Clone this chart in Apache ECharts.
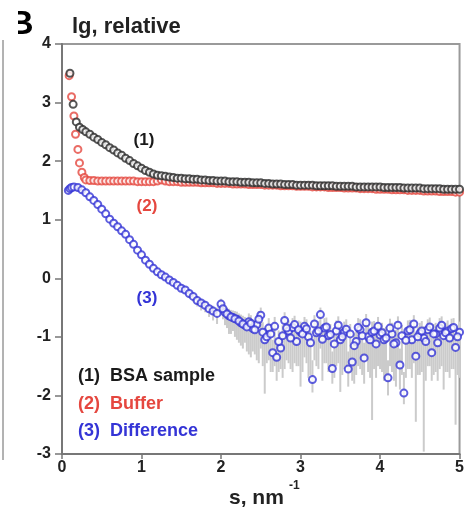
<!DOCTYPE html>
<html>
<head>
<meta charset="utf-8">
<script src="https://cdn.jsdelivr.net/npm/echarts@6/dist/echarts.min.js"></script>
<style>
  html, body { margin: 0; padding: 0; background: #fff; }
  #chart { width: 467px; height: 509px; }
</style>
</head>
<body>
<div id="chart"></div>
<script>
// shared s grid (nm^-1) for the tail of every curve
const sGrid = [
  0.35, 0.40, 0.45, 0.50, 0.55, 0.60, 0.65, 0.70, 0.75, 0.80, 0.85, 0.90, 0.95, 1.00,
  1.05, 1.10, 1.15, 1.20, 1.25, 1.30, 1.35, 1.40, 1.45, 1.50, 1.55, 1.60, 1.65, 1.70, 1.75, 1.80, 1.85, 1.90, 1.95, 2.00,
  2.05, 2.10, 2.15, 2.20, 2.25, 2.30, 2.35, 2.40, 2.45, 2.50, 2.55, 2.60, 2.65, 2.70, 2.75, 2.80, 2.85, 2.90, 2.95, 3.00,
  3.05, 3.10, 3.15, 3.20, 3.25, 3.30, 3.35, 3.40, 3.45, 3.50, 3.55, 3.60, 3.65, 3.70, 3.75, 3.80, 3.85, 3.90, 3.95, 4.00,
  4.05, 4.10, 4.15, 4.20, 4.25, 4.30, 4.35, 4.40, 4.45, 4.50, 4.55, 4.60, 4.65, 4.70, 4.75, 4.80, 4.85, 4.90, 4.95, 5.00
];

// (1) BSA sample
const sampleHeadS = [0.10, 0.14, 0.18, 0.22, 0.26, 0.30];
const sampleHeadV = [3.50, 2.97, 2.67, 2.58, 2.54, 2.50];
const sampleTail = [
  2.46, 2.41, 2.37, 2.32, 2.28, 2.23, 2.19, 2.14, 2.10, 2.05, 2.01, 1.96, 1.92, 1.88,
  1.84, 1.81, 1.78, 1.76, 1.75, 1.74, 1.73, 1.72, 1.71, 1.71, 1.70, 1.70, 1.69, 1.69, 1.68, 1.68, 1.67, 1.67, 1.66, 1.66,
  1.66, 1.65, 1.65, 1.65, 1.64, 1.64, 1.64, 1.63, 1.63, 1.63, 1.62, 1.62, 1.61, 1.61, 1.61, 1.60, 1.60, 1.60, 1.59, 1.59,
  1.59, 1.59, 1.59, 1.58, 1.58, 1.58, 1.58, 1.58, 1.57, 1.57, 1.57, 1.57, 1.57, 1.56, 1.56, 1.56, 1.56, 1.56, 1.56, 1.56,
  1.55, 1.55, 1.55, 1.55, 1.55, 1.54, 1.54, 1.54, 1.54, 1.54, 1.53, 1.53, 1.53, 1.53, 1.53, 1.52, 1.52, 1.52, 1.52, 1.52
];

// (2) Buffer
const bufferHeadS = [0.09, 0.12, 0.15, 0.17, 0.20, 0.22, 0.25, 0.28, 0.30];
const bufferHeadV = [3.46, 3.10, 2.77, 2.46, 2.20, 1.97, 1.81, 1.72, 1.68];
const bufferTail = [
  1.67, 1.67, 1.66, 1.66, 1.66, 1.66, 1.66, 1.66, 1.66, 1.66, 1.66, 1.66, 1.65, 1.65,
  1.65, 1.65, 1.65, 1.66, 1.68, 1.66, 1.65, 1.65, 1.65, 1.64, 1.64, 1.64, 1.64, 1.64, 1.63, 1.63, 1.63, 1.63, 1.62, 1.62,
  1.62, 1.62, 1.61, 1.61, 1.61, 1.61, 1.60, 1.60, 1.60, 1.60, 1.59, 1.59, 1.59, 1.59, 1.58, 1.58, 1.58, 1.58, 1.57, 1.57,
  1.57, 1.57, 1.56, 1.56, 1.56, 1.56, 1.55, 1.55, 1.55, 1.55, 1.54, 1.54, 1.54, 1.54, 1.53, 1.53, 1.53, 1.53, 1.52, 1.52,
  1.52, 1.52, 1.51, 1.51, 1.51, 1.51, 1.50, 1.50, 1.50, 1.50, 1.49, 1.49, 1.49, 1.49, 1.48, 1.48, 1.48, 1.48, 1.47, 1.47
];

// (3) Difference
const diffHeadS = [0.08, 0.10, 0.12, 0.15, 0.20, 0.25, 0.30];
const diffHeadV = [1.50, 1.53, 1.55, 1.56, 1.55, 1.51, 1.46];
const diffTail = [
  1.39, 1.33, 1.26, 1.18, 1.10, 1.01, 0.94, 0.88, 0.81, 0.75, 0.66, 0.58, 0.48, 0.40,
  0.31, 0.24, 0.17, 0.11, 0.06, 0.02, -0.03, -0.07, -0.12, -0.17, -0.20, -0.26, -0.31, -0.38, -0.42, -0.46, -0.52, -0.56, -0.60, -0.44,
  -0.58, -0.64, -0.67, -0.70, -0.76, -0.80, -0.74, -0.86, -0.79, -0.63, -1.05, -0.85, -1.27, -1.35, -1.19, -0.72, -0.90, -0.84, -1.08, -0.92,
  -0.82, -1.00, -1.73, -0.93, -0.62, -0.85, -0.98, -1.54, -0.90, -1.05, -0.92, -1.55, -1.43, -1.08, -0.88, -1.36, -1.00, -0.92, -1.12, -0.97,
  -1.05, -1.70, -0.95, -1.10, -1.48, -1.96, -0.90, -1.05, -1.33, -0.94, -1.02, -0.88, -1.27, -0.95, -0.85, -0.98, -0.90, -0.86, -1.18, -0.92
];
// extra difference points between the grid steps (noisy part)
const diffMidS = [
  2.025, 2.075, 2.125, 2.175, 2.225, 2.275, 2.325, 2.375, 2.425, 2.475, 2.525, 2.575, 2.625, 2.675, 2.725, 2.775, 2.825, 2.875, 2.925, 2.975,
  3.025, 3.075, 3.125, 3.175, 3.225, 3.275, 3.325, 3.375, 3.425, 3.475, 3.525, 3.575, 3.625, 3.675, 3.725, 3.775, 3.825, 3.875, 3.925, 3.975,
  4.025, 4.075, 4.125, 4.175, 4.225, 4.275, 4.325, 4.375, 4.425, 4.475, 4.525, 4.575, 4.625, 4.675, 4.725, 4.775, 4.825, 4.875, 4.925, 4.975
];
const diffMidV = [
  -0.52, -0.61, -0.66, -0.69, -0.73, -0.78, -0.83, -0.77, -0.88, -0.70, -0.92, -1.00, -0.95, -0.82, -1.08, -0.98, -0.85, -1.02, -0.79, -0.88,
  -0.95, -0.86, -1.10, -0.78, -0.90, -1.04, -0.83, -0.96, -1.12, -0.80, -1.00, -0.87, -0.95, -1.15, -0.84, -0.98, -0.76, -1.05, -0.90, -0.82,
  -0.93, -1.02, -0.85, -1.12, -0.80, -0.98, -1.06, -0.88, -0.78, -1.00, -0.90, -1.08, -0.83, -0.95, -1.10, -0.80, -0.93, -1.02, -0.84, -1.00
];

// error bar ends of the difference curve, from s = 1.60 on
const errFrom = 1.60;
const errLow = [
  -0.34, -0.40, -0.48, -0.55, -0.58, -0.66, -0.72, -0.78, -0.62,
  -0.80, -0.95, -0.90, -1.05, -1.15, -1.10, -1.30, -1.25, -1.40, -1.20, -1.97, -1.40, -1.60, -1.75, -1.55, -1.55, -1.45, -1.60, -1.50, -1.85,
  -1.35, -1.70, -1.95, -1.50, -1.20, -1.45, -1.60, -1.80, -1.50, -1.94, -1.55, -1.85, -1.75, -1.65, -1.55, -1.80, -1.60, -2.42, -1.70, -1.55,
  -1.75, -2.00, -1.60, -1.85, -1.90, -2.15, -1.55, -1.70, -2.45, -1.65, -2.96, -1.50, -1.75, -1.60, -1.55, -1.90, -1.60, -1.55, -2.50, -1.70
];
const errHigh = [
  -0.20, -0.25, -0.31, -0.35, -0.38, -0.44, -0.47, -0.50, -0.35,
  -0.47, -0.52, -0.55, -0.57, -0.62, -0.66, -0.60, -0.70, -0.64, -0.50, -0.85, -0.68, -1.05, -1.10, -0.95, -0.58, -0.72, -0.68, -0.88, -0.74,
  -0.66, -0.80, -1.40, -0.75, -0.50, -0.68, -0.78, -1.25, -0.72, -0.85, -0.74, -1.25, -1.15, -0.88, -0.70, -1.10, -0.80, -0.74, -0.90, -0.78,
  -0.85, -1.40, -0.76, -0.88, -1.20, -1.60, -0.72, -0.85, -1.08, -0.76, -0.82, -0.70, -1.02, -0.76, -0.68, -0.78, -0.72, -0.69, -0.95, -0.74
];
const errMidLow = [
  -0.70, -0.85, -0.95, -1.00, -1.10, -1.20, -1.25, -1.35, -1.30, -1.45, -1.50, -1.45, -1.60, -1.50, -1.60, -1.70, -1.40, -1.55, -1.45, -1.50,
  -1.60, -1.45, -1.65, -1.40, -1.55, -1.75, -1.45, -1.60, -1.70, -1.45, -1.65, -1.50, -1.60, -1.80, -1.50, -1.65, -1.40, -1.70, -1.55, -1.50,
  -1.60, -1.70, -1.50, -1.75, -1.45, -1.65, -1.70, -1.55, -1.45, -1.65, -1.60, -1.75, -1.50, -1.65, -1.75, -1.50, -1.60, -1.70, -1.55, -1.65
];
const errMidHigh = [
  -0.42, -0.50, -0.54, -0.56, -0.60, -0.64, -0.68, -0.63, -0.72, -0.56, -0.75, -0.82, -0.78, -0.66, -0.89, -0.80, -0.69, -0.84, -0.64, -0.72,
  -0.78, -0.70, -0.90, -0.63, -0.73, -0.85, -0.67, -0.78, -0.92, -0.65, -0.82, -0.70, -0.78, -0.94, -0.68, -0.80, -0.61, -0.86, -0.73, -0.66,
  -0.76, -0.83, -0.69, -0.92, -0.65, -0.80, -0.87, -0.71, -0.63, -0.82, -0.73, -0.89, -0.67, -0.78, -0.90, -0.65, -0.76, -0.84, -0.68, -0.82
];

const legendLines = ["(1)  BSA sample", "(2)  Buffer", "(3)  Difference"];
const curveTags = ["(1)", "(2)", "(3)"];

const FONT = "'Liberation Sans', Arial, sans-serif";
const BLACK = "#2b2b2b", RED = "#e5473f", BLUE = "#3434d6";

const pairs = (xs, ys) => xs.map((x, i) => [x, ys[i]]);
const sampleData = pairs(sampleHeadS, sampleHeadV).concat(pairs(sGrid, sampleTail));
const bufferData = pairs(bufferHeadS, bufferHeadV).concat(pairs(sGrid, bufferTail));
const diffData = pairs(diffHeadS, diffHeadV)
  .concat(pairs(sGrid, diffTail))
  .concat(pairs(diffMidS, diffMidV));
const errStart = sGrid.findIndex((s) => s >= errFrom - 1e-9);
const errData = errLow
  .map((lo, i) => [sGrid[errStart + i], lo, errHigh[i]])
  .concat(errMidLow.map((lo, i) => [diffMidS[i], lo, errMidHigh[i]]));

const chart = echarts.init(document.getElementById("chart"), null, { renderer: "canvas" });

const txt = (text, x, y, color, size, align) => ({
  type: "text",
  x, y,
  style: {
    text, fill: color, font: `bold ${size}px ${FONT}`,
    textAlign: align || "left", textVerticalAlign: "middle"
  },
  z: 10
});

const option = {
  animation: false,
  backgroundColor: "#fff",
  grid: {
    left: 62, right: 1, top: 44, bottom: 55,
    show: true, borderColor: "#9a9a9a", borderWidth: 2
  },
  xAxis: {
    type: "value", min: 0, max: 5, interval: 1,
    axisLine: { onZero: false, lineStyle: { color: "#777", width: 2 } },
    axisTick: { length: 5, lineStyle: { color: "#777", width: 1.5 } },
    axisLabel: { margin: 6, color: "#222", fontSize: 16, fontWeight: "bold", fontFamily: FONT },
    splitLine: { show: false }
  },
  yAxis: {
    type: "value", min: -3, max: 4, interval: 1,
    axisLine: { show: true, onZero: false, lineStyle: { color: "#777", width: 2 } },
    axisTick: { show: true, length: 7, lineStyle: { color: "#777", width: 1.5 } },
    axisLabel: { margin: 11, color: "#222", fontSize: 16, fontWeight: "bold", fontFamily: FONT },
    splitLine: { show: false }
  },
  series: [
    {
      type: "custom",
      data: errData,
      encode: { x: 0, y: [1, 2] },
      renderItem: (params, api) => {
        const a = api.coord([api.value(0), api.value(1)]);
        const b = api.coord([api.value(0), api.value(2)]);
        return {
          type: "line",
          shape: { x1: a[0], y1: a[1], x2: b[0], y2: b[1] },
          style: { stroke: "#cbcbcb", lineWidth: 2 }
        };
      },
      z: 1
    },
    {
      type: "scatter", data: bufferData, symbol: "emptyCircle", symbolSize: 7,
      itemStyle: { color: RED, borderColor: RED, borderWidth: 1.5 }, z: 2
    },
    {
      type: "scatter", data: sampleData, symbol: "emptyCircle", symbolSize: 7,
      itemStyle: { color: BLACK, borderColor: BLACK, borderWidth: 1.5 }, z: 3
    },
    {
      type: "scatter", data: diffData, symbol: "emptyCircle", symbolSize: 7,
      itemStyle: { color: BLUE, borderColor: BLUE, borderWidth: 1.5 }, z: 4
    }
  ],
  graphic: [
    // panel letter, partly hidden like in the cropped figure
    txt("B", 9, 25, "#000", 34),
    { type: "rect", shape: { x: 0, y: 0, width: 18, height: 40 }, style: { fill: "#fff" }, z: 11 },
    // edge of the neighbouring panel
    { type: "line", shape: { x1: 3, y1: 40, x2: 3, y2: 460 }, style: { stroke: "#666", lineWidth: 1 }, z: 12 },
    txt("lg, relative", 72, 27, "#222", 22),
    txt(curveTags[0], 144, 140, "#1a1a1a", 17, "center"),
    txt(curveTags[1], 147, 206, RED, 17, "center"),
    txt(curveTags[2], 147, 298, BLUE, 17, "center"),
    txt(legendLines[0], 78, 376, "#1a1a1a", 18),
    txt(legendLines[1], 78, 404, RED, 18),
    txt(legendLines[2], 78, 431, BLUE, 18),
    txt("s, nm", 229, 498, "#222", 21),
    txt("-1", 289, 486, "#222", 12)
  ]
};

chart.setOption(option);
</script>
</body>
</html>
